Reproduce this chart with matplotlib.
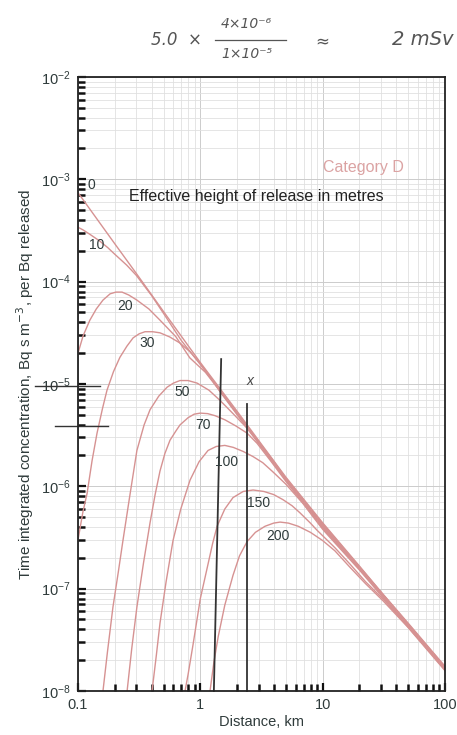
import matplotlib
matplotlib.use("Agg")
import matplotlib.pyplot as plt
from matplotlib.ticker import LogLocator, FuncFormatter, NullFormatter

# ground level time integrated concentration, category D, per release height (m)
h0_d = [0.1, 0.2, 0.3, 0.5, 1, 2, 3, 5, 10, 20, 30, 50, 100]
h0_c = [7.4e-4, 2.34e-4, 1.2e-4, 5.1e-5, 1.62e-5, 5.4e-6, 2.8e-6, 1.23e-6, 4.4e-7, 1.66e-7,
        9.3e-8, 4.6e-8, 1.74e-8]

h10_d = [0.1, 0.11, 0.125, 0.15, 0.175, 0.2, 0.25, 0.3, 0.4, 0.5, 0.7, 1, 2, 5, 10, 20, 50, 100]
h10_c = [3.4e-4, 3.2e-4, 2.9e-4, 2.5e-4, 2.15e-4, 1.85e-4, 1.45e-4, 1.15e-4, 7.3e-5, 4.9e-5,
         2.65e-5, 1.55e-5, 5.2e-6, 1.2e-6, 4.3e-7, 1.63e-7, 4.5e-8, 1.72e-8]

h20_d = [0.1, 0.11, 0.125, 0.141, 0.16, 0.183, 0.204, 0.229, 0.26, 0.303, 0.38, 0.468, 0.63,
         0.82, 1.1, 1.45, 2, 5, 10, 20, 50, 100]
h20_c = [2.0e-5, 2.95e-5, 4.2e-5, 5.4e-5, 6.6e-5, 7.6e-5, 7.9e-5, 7.9e-5, 7.4e-5, 6.6e-5,
         5.4e-5, 4.2e-5, 2.9e-5, 1.8e-5, 1.3e-5, 8.5e-6, 5.1e-6, 1.18e-6, 4.2e-7, 1.62e-7,
         4.5e-8, 1.7e-8]

h30_d = [0.1, 0.1096, 0.1186, 0.1303, 0.143, 0.1585, 0.1726, 0.195, 0.22, 0.251, 0.282, 0.316,
         0.353, 0.407, 0.468, 0.562, 0.682, 0.832, 1.0, 1.2, 1.45, 2, 5, 10, 20, 50, 100]
h30_c = [3.0e-7, 5.6e-7, 8.5e-7, 1.78e-6, 3.3e-6, 5.75e-6, 8.7e-6, 1.32e-5, 1.82e-5, 2.34e-5,
         2.82e-5, 3.09e-5, 3.24e-5, 3.24e-5, 3.16e-5, 2.88e-5, 2.51e-5, 2.04e-5, 1.58e-5,
         1.17e-5, 8.4e-6, 5.0e-6, 1.15e-6, 4.1e-7, 1.6e-7, 4.4e-8, 1.68e-8]

h50_d = [0.16, 0.174, 0.193, 0.214, 0.233, 0.263, 0.303, 0.347, 0.388, 0.457, 0.535, 0.603,
         0.682, 0.794, 0.94, 1.175, 1.45, 1.86, 2.41, 3.16, 4.0, 5, 10, 20, 50, 100]
h50_c = [1.0e-8, 2.4e-8, 6.6e-8, 1.48e-7, 2.95e-7, 7.6e-7, 2.24e-6, 3.98e-6, 5.6e-6, 7.6e-6,
         9.3e-6, 1.02e-5, 1.08e-5, 1.08e-5, 1.02e-5, 8.7e-6, 6.9e-6, 5.1e-6, 3.7e-6, 2.5e-6,
         1.74e-6, 1.17e-6, 4.0e-7, 1.58e-7, 4.35e-8, 1.66e-8]

h70_d = [0.252, 0.275, 0.303, 0.343, 0.388, 0.427, 0.468, 0.513, 0.565, 0.631, 0.682, 0.794,
         0.891, 1.0, 1.148, 1.318, 1.585, 1.95, 2.41, 2.91, 3.8, 5, 10, 20, 50, 100]
h70_c = [1.0e-8, 2.6e-8, 6.6e-8, 1.78e-7, 4.4e-7, 8.3e-7, 1.41e-6, 2.09e-6, 2.82e-6, 3.47e-6,
         3.98e-6, 4.68e-6, 5.07e-6, 5.19e-6, 5.13e-6, 4.9e-6, 4.47e-6, 3.89e-6, 3.31e-6,
         2.63e-6, 1.74e-6, 1.12e-6, 3.9e-7, 1.56e-7, 4.3e-8, 1.64e-8]

h100_d = [0.403, 0.437, 0.468, 0.525, 0.598, 0.692, 0.824, 0.977, 1.156, 1.35, 1.585, 1.86,
          2.24, 2.7, 3.24, 3.93, 5.0, 6.9, 10, 20, 50, 100]
h100_c = [1.0e-8, 2.24e-8, 4.6e-8, 1.17e-7, 2.95e-7, 6.0e-7, 1.15e-6, 1.74e-6, 2.24e-6, 2.45e-6,
          2.51e-6, 2.4e-6, 2.19e-6, 1.95e-6, 1.7e-6, 1.38e-6, 1.05e-6, 6.8e-7, 3.8e-7, 1.52e-7,
          4.2e-8, 1.62e-8]

h150_d = [0.75, 0.794, 0.871, 1.0, 1.122, 1.259, 1.371, 1.585, 1.85, 2.24, 2.7, 3.31, 3.98,
          4.74, 5.62, 6.53, 7.94, 9.0, 12.6, 16.7, 22.4, 31.2, 50, 100]
h150_c = [1.0e-8, 1.45e-8, 2.82e-8, 8.0e-8, 1.48e-7, 2.75e-7, 4.07e-7, 6.0e-7, 7.76e-7, 8.9e-7,
          9.2e-7, 8.9e-7, 8.3e-7, 7.4e-7, 6.46e-7, 5.5e-7, 4.37e-7, 3.72e-7, 2.51e-7, 1.74e-7,
          1.17e-7, 7.9e-8, 4.27e-8, 1.62e-8]

h200_d = [1.2, 1.29, 1.4, 1.585, 1.85, 2.09, 2.41, 2.82, 3.38, 3.98, 4.49, 5.25, 6.31, 7.94, 10,
          12.6, 16.7, 22.4, 31.2, 50, 100]
h200_c = [1.0e-8, 1.9e-8, 3.4e-8, 6.9e-8, 1.35e-7, 2.09e-7, 2.88e-7, 3.55e-7, 4.07e-7, 4.37e-7,
          4.47e-7, 4.37e-7, 4.07e-7, 3.55e-7, 2.95e-7, 2.34e-7, 1.62e-7, 1.12e-7, 7.6e-8,
          4.17e-8, 1.58e-8]

heights = ["0", "10", "20", "30", "50", "70", "100", "150", "200"]
curves = [(h0_d, h0_c), (h10_d, h10_c), (h20_d, h20_c), (h30_d, h30_c), (h50_d, h50_c),
          (h70_d, h70_c), (h100_d, h100_c), (h150_d, h150_c), (h200_d, h200_c)]
label_x = [0.128, 0.143, 0.242, 0.366, 0.708, 1.05, 1.65, 2.97, 4.32]
label_y = [8.8e-4, 2.28e-4, 5.8e-5, 2.5e-5, 8.3e-6, 4.0e-6, 1.72e-6, 6.9e-7, 3.3e-7]

# pen marks added on the printed sheet
pen_vert_x = [(1.48, 1.29), (2.41, 2.41)]
pen_vert_y = [(1.75e-5, 1.0e-8), (6.4e-6, 1.0e-8)]
pen_horiz_x = [(0.0445, 0.151), (0.0649, 0.176)]
pen_horiz_y = [9.5e-6, 3.9e-6]

plt.rcParams["font.family"] = ["Liberation Sans", "DejaVu Sans"]
curve_col = "#d69292"
text_col = "#2f3b3b"

fig = plt.figure(figsize=(4.57, 7.35), dpi=100)
ax = fig.add_axes([0.1707, 0.0599, 0.803, 0.8354])
ax.set_xscale("log")
ax.set_yscale("log")
ax.set_xlim(0.1, 100)
ax.set_ylim(1e-8, 1e-2)

ax.grid(True, which="major", color="#cccccc", lw=0.7)
ax.grid(True, which="minor", color="#e0e0e0", lw=0.6)

for (d, c) in curves:
    ax.plot(d, c, color=curve_col, lw=1.0)

for h, x, y in zip(heights, label_x, label_y):
    ax.text(x, y, h, color=text_col, fontsize=10, ha="center", va="center")

ax.text(0.777, 0.853, "Category D", transform=ax.transAxes, color="#dba3a3",
        fontsize=11.5, ha="center", va="center")
ax.text(0.485, 0.805, "Effective height of release in metres", transform=ax.transAxes,
        color="#222222", fontsize=11.5, ha="center", va="center")

for xs, ys in zip(pen_vert_x, pen_vert_y):
    ax.plot(xs, ys, color="#333333", lw=1.3, clip_on=False)
for xs, y in zip(pen_horiz_x, pen_horiz_y):
    ax.plot(xs, [y, y], color="#333333", lw=1.0, clip_on=False)
ax.text(2.55, 1.08e-5, "x", color="#444444", fontsize=10, ha="center", va="center",
        fontstyle="italic")

ax.xaxis.set_major_locator(LogLocator(base=10, numticks=10))
ax.xaxis.set_minor_locator(LogLocator(base=10, subs=range(2, 10), numticks=20))
ax.xaxis.set_major_formatter(FuncFormatter(lambda v, p: "%g" % v))
ax.xaxis.set_minor_formatter(NullFormatter())
ax.yaxis.set_major_locator(LogLocator(base=10, numticks=10))
ax.yaxis.set_minor_locator(LogLocator(base=10, subs=range(2, 10), numticks=20))
ax.yaxis.set_minor_formatter(NullFormatter())

ax.tick_params(which="both", direction="in", colors="#111111", labelcolor=text_col,
               top=False, right=False)
ax.tick_params(which="major", length=6, width=1.6, labelsize=10.5, pad=5)
ax.tick_params(which="minor", length=5, width=1.8, labelleft=False, labelbottom=False)

for s in ax.spines.values():
    s.set_color("#222222")
    s.set_linewidth(1.3)

ax.set_xlabel("Distance, km", color=text_col, fontsize=10.5, labelpad=2)
ax.set_ylabel("Time integrated concentration, Bq s m$^{-3}$, per Bq released",
              color=text_col, fontsize=11, labelpad=4)

# handwritten sum above the chart
hand = dict(color="#555555", fontstyle="italic", family="DejaVu Sans")
fig.text(0.385, 0.946, "5.0  ×", fontsize=12, ha="center", va="center", **hand)
fig.text(0.54, 0.968, "4×10⁻⁶", fontsize=10, ha="center", va="center", **hand)
fig.text(0.54, 0.926, "1×10⁻⁵", fontsize=10, ha="center", va="center", **hand)
fig.add_artist(plt.Line2D([0.47, 0.625], [0.946, 0.946], color="#555555", lw=0.9))
fig.text(0.705, 0.944, "≈", fontsize=12, ha="center", va="center", **hand)
fig.text(0.925, 0.946, "2 mSv", fontsize=14, ha="center", va="center", **hand)

fig.savefig("out.png", dpi=100)
